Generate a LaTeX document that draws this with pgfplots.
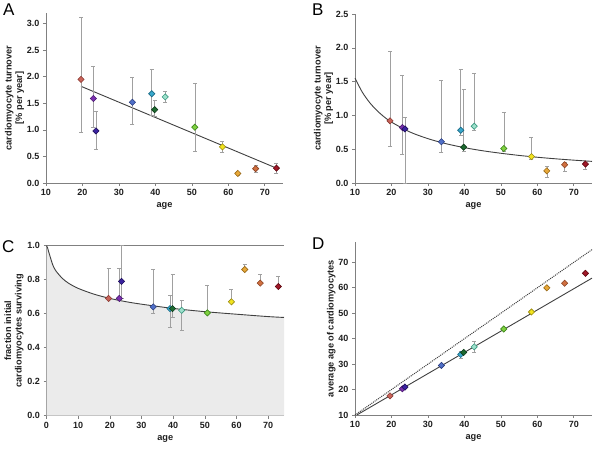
\documentclass[border=0pt]{standalone}
\usepackage{fontspec}
\setmainfont{Liberation Sans}
\usepackage{pgfplots}
\usepackage{pgfplotstable}
\pgfplotsset{compat=1.18}

\definecolor{c1}{HTML}{C8645A}\definecolor{c1d}{HTML}{8B3A33}
\definecolor{c2}{HTML}{7B30B0}\definecolor{c2d}{HTML}{4A1A70}
\definecolor{c3}{HTML}{3A22A0}\definecolor{c3d}{HTML}{20105A}
\definecolor{c4}{HTML}{5070C8}\definecolor{c4d}{HTML}{2A3C80}
\definecolor{c5}{HTML}{38A8CC}\definecolor{c5d}{HTML}{1C6C88}
\definecolor{c6}{HTML}{1D6A30}\definecolor{c6d}{HTML}{0C3A18}
\definecolor{c7}{HTML}{9EE0CC}\definecolor{c7d}{HTML}{3A9A80}
\definecolor{c8}{HTML}{80D040}\definecolor{c8d}{HTML}{3F8A1C}
\definecolor{c9}{HTML}{F2E41E}\definecolor{c9d}{HTML}{9A8A10}
\definecolor{c10}{HTML}{E8A838}\definecolor{c10d}{HTML}{9A6A18}
\definecolor{c11}{HTML}{D07040}\definecolor{c11d}{HTML}{8A4020}
\definecolor{c12}{HTML}{A01828}\definecolor{c12d}{HTML}{600810}
\definecolor{axcol}{HTML}{808080}
\definecolor{errcol}{HTML}{A0A0A0}
\definecolor{fitcol}{HTML}{404040}

\pgfplotstableread{
age  cls A    Aep  Aem  B    Bep  Bem  C     Cep   Cem  D    Dep Dem
19.6 a   1.95 1.17 1.00 0.92 1.03 0.37 0.69  0.18  0.00 17.5 0.5 0.5
23.0 b   1.59 0.60 0.54 0.82 0.77 0.40 0.69  0.18  0.00 20.3 0.5 0.5
23.7 c   0.98 0.37 0.34 0.80 0.18 0.80 0.79  0.21  0.10 21.0 0.5 0.5
33.7 d   1.52 0.47 0.42 0.61 0.91 0.15 0.64  0.22  0.04 29.5 0.5 0.5
39.0 e   1.68 0.46 0.40 0.78 0.90 0.08 0.63  0.08  0.11 33.8 1.2 1.5
39.8 f   1.38 0.17 0.13 0.53 0.85 0.06 0.63  0.20  0.05 34.6 0.5 0.5
42.7 g   1.62 0.10 0.10 0.84 0.78 0.06 0.62  0.06  0.12 36.8 2.2 2.3
50.8 h   1.05 0.83 0.45 0.51 0.53 0.04 0.605 0.165 0.00 43.8 0.5 0.5
58.4 i   0.68 0.11 0.10 0.39 0.29 0.04 0.67  0.075 0.00 50.5 0.5 0.5
62.6 j   0.18 0.03 0.03 0.18 0.07 0.10 0.86  0.03  0.00 60.0 0.5 0.5
67.5 k   0.27 0.06 0.07 0.27 0.03 0.10 0.78  0.05  0.00 61.8 0.5 0.5
73.2 l   0.28 0.10 0.09 0.28 0.02 0.07 0.76  0.06  0.00 65.7 0.5 0.5
}\data

\pgfplotsset{
  panel/.style={
    scale only axis, clip=false,
    axis x line=bottom, axis y line=left,
    axis line style={-, axcol, line width=0.6pt},
    tick align=outside, major tick length=3pt,
    tick style={axcol, line width=0.6pt},
    /pgf/number format/assume math mode=true,
    ticklabel style={font=\bfseries\fontsize{9}{10}\selectfont, text=black!88},
    label style={font=\bfseries\fontsize{9.2}{10.5}\selectfont, text=black!88},
    xlabel={age},
  },
  onedec/.style={yticklabel style={/pgf/number format/.cd, fixed, fixed zerofill, precision=1}},
  pts/.style={
    scatter, only marks, point meta=explicit symbolic,
    mark=square*, mark size=2.2pt, mark options={rotate=45, line width=0.6pt},
    scatter/classes={
      a={fill=c1, draw=c1d}, b={fill=c2, draw=c2d}, c={fill=c3, draw=c3d},
      d={fill=c4, draw=c4d}, e={fill=c5, draw=c5d}, f={fill=c6, draw=c6d},
      g={fill=c7, draw=c7d}, h={fill=c8, draw=c8d}, i={fill=c9, draw=c9d},
      j={fill=c10, draw=c10d}, k={fill=c11, draw=c11d}, l={fill=c12, draw=c12d}},
    error bars/.cd, y dir=both, y explicit,
    error bar style={errcol, line width=0.5pt},
    error mark options={rotate=90, errcol, mark size=2pt, line width=0.5pt},
  },
}

\begin{document}
\begin{tikzpicture}
\useasboundingbox (0pt,0pt) rectangle (600pt,451pt);

% Panel A
\begin{axis}[panel, onedec, at={(46pt,268pt)}, anchor=south west,
  width=237pt, height=170pt, xmin=10, xmax=75, ymin=0, ymax=3.2,
  xtick={10,20,...,70}, ytick={0,0.5,...,3.0},
  ylabel style={align=center, yshift=-4pt}, ylabel={cardiomyocyte turnover\\{}[\% per year]}]
\addplot[fitcol, line width=0.9pt] coordinates {(19.6,1.82) (73.2,0.28)};
\addplot[pts] table[x=age, y=A, y error plus=Aep, y error minus=Aem, meta=cls] {\data};
\end{axis}

% Panel B
\begin{axis}[panel, onedec, at={(355pt,268pt)}, anchor=south west,
  width=237pt, height=169pt, xmin=10, xmax=75, ymin=0, ymax=2.5,
  xtick={10,20,...,70}, ytick={0,0.5,...,2.5},
  ylabel style={align=center, yshift=-4pt}, ylabel={cardiomyocyte turnover\\{}[\% per year]}]
\addplot[fitcol, line width=0.9pt, smooth] coordinates {
 (10,1.550) (12,1.344) (14,1.191) (16,1.073) (18,0.978) (20,0.901)
 (25,0.756) (30,0.656) (35,0.581) (40,0.523) (45,0.477) (50,0.440)
 (55,0.408) (60,0.381) (65,0.358) (70,0.338) (75,0.320)};
\addplot[pts] table[x=age, y=B, y error plus=Bep, y error minus=Bem, meta=cls] {\data};
\end{axis}

% Panel C
\begin{axis}[panel, at={(46.5pt,35.3pt)}, anchor=south west,
  width=237.5pt, height=170pt, xmin=0, xmax=75, ymin=0, ymax=1.0,
  xtick={0,10,...,70}, ytick={0,0.2,...,1.0},
  yticklabel style={/pgf/number format/.cd, fixed, fixed zerofill, precision=1},
  ylabel style={align=center, yshift=-3pt}, ylabel={fraction initial\\cardiomyocytes surviving}]
\addplot[draw=none, fill=black!8] coordinates {
 (0,0) (0,1.0) (0.3,0.99) (0.6,0.97) (1,0.945) (2,0.886) (3,0.851) (5,0.808) (7,0.779)
 (10,0.749) (15,0.715) (20,0.690) (25,0.671) (30,0.656) (40,0.631) (50,0.612)
 (60,0.597) (70,0.583) (75,0.578) (75,0)} \closedcycle;
\addplot[axcol, line width=0.6pt] coordinates {(0,1.0) (75,1.0)};
\addplot[fitcol, line width=0.9pt, smooth] coordinates {
 (0,1.0) (0.3,0.99) (0.6,0.97) (1,0.945) (2,0.886) (3,0.851) (5,0.808) (7,0.779)
 (10,0.749) (15,0.715) (20,0.690) (25,0.671) (30,0.656) (40,0.631) (50,0.612)
 (60,0.597) (70,0.583) (75,0.578)};
\addplot[pts] table[x=age, y=C, y error plus=Cep, y error minus=Cem, meta=cls] {\data};
\end{axis}

% Panel D
\begin{axis}[panel, at={(355pt,36pt)}, anchor=south west,
  width=237pt, height=173pt, xmin=10, xmax=75, ymin=10, ymax=78,
  xtick={10,20,...,70}, ytick={10,20,...,70},
  ylabel style={yshift=-4pt}, ylabel={average age of cardiomyocytes}]
\addplot[fitcol, line width=1pt, densely dotted] coordinates {(10,10) (75,75)};
\addplot[fitcol, line width=0.9pt] coordinates {(10.5,10) (75,63.8)};
\addplot[pts] table[x=age, y=D, y error plus=Dep, y error minus=Dem, meta=cls] {\data};
\end{axis}

\node[anchor=north west, inner sep=0pt, font=\fontsize{17}{17}\selectfont] at (3pt,447pt) {A};
\node[anchor=north west, inner sep=0pt, font=\fontsize{17}{17}\selectfont] at (312pt,447pt) {B};
\node[anchor=north west, inner sep=0pt, font=\fontsize{17}{17}\selectfont] at (2pt,211pt) {C};
\node[anchor=north west, inner sep=0pt, font=\fontsize{17}{17}\selectfont] at (312pt,213pt) {D};
\end{tikzpicture}
\end{document}
